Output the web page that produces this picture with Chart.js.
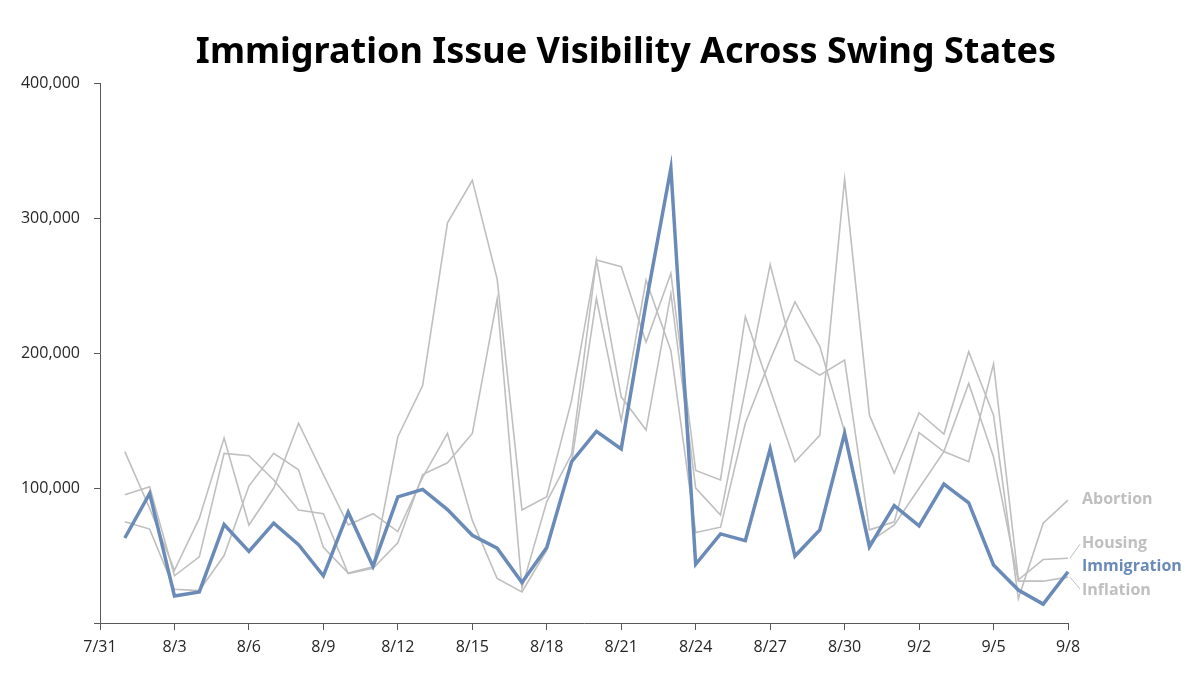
<!DOCTYPE html>
<html>
<head>
<meta charset="utf-8">
<script src="https://cdn.jsdelivr.net/npm/chart.js@4.4.1/dist/chart.umd.min.js"></script>
<style>
    html, body { margin: 0; padding: 0; background: #fff; }
    #wrap { width: 1200px; height: 675px; }
</style>
</head>
<body>
<div id="wrap"><canvas id="issueChart" width="1200" height="675"></canvas></div>
<script>
"use strict";

var dates = ['7/31',
    '8/1', '8/2', '8/3', '8/4', '8/5', '8/6', '8/7', '8/8', '8/9', '8/10',
    '8/11', '8/12', '8/13', '8/14', '8/15', '8/16', '8/17', '8/18', '8/19', '8/20',
    '8/21', '8/22', '8/23', '8/24', '8/25', '8/26', '8/27', '8/28', '8/29', '8/30',
    '8/31', '9/1', '9/2', '9/3', '9/4', '9/5', '9/6', '9/7', '9/8'];

// values start on 8/1
var immigration = [63000, 96000, 20000, 23000, 73000, 53000, 74000, 58000, 35000, 82000,
    42000, 93500, 99000, 84000, 65000, 55500, 30000, 56000, 119500, 142000,
    129000, 237000, 337000, 43500, 66000, 61000, 129000, 49600, 69000, 140500,
    56500, 87000, 72000, 103000, 89000, 43000, 24400, 14000, 38000];

var abortion = [75000, 69600, 25000, 24000, 50000, 101500, 125700, 113500, 56000, 37000,
    41700, 138000, 176000, 296500, 328000, 255000, 83700, 93600, 165000, 269000,
    264000, 208000, 259000, 113000, 106000, 227000, 173000, 119500, 139000, 329000,
    154000, 111000, 155800, 140000, 201000, 154000, 18000, 74000, 91000];

var housing = [95000, 101000, 35000, 49000, 125700, 124000, 106000, 83700, 81000, 36700,
    40500, 59500, 110000, 118700, 140500, 240000, 26000, 90000, 125000, 269000,
    167600, 143000, 244000, 100000, 80000, 173000, 265600, 194800, 183700, 194800,
    69000, 75000, 141000, 127000, 119500, 192000, 32000, 47000, 48000];

var inflation = [127000, 85000, 39000, 77500, 137000, 72600, 100000, 148000, 110000, 72600,
    81000, 67700, 108000, 140500, 76000, 33000, 23000, 54000, 119000, 240500,
    150000, 254000, 202000, 67000, 71000, 148000, 195000, 238000, 205000, 141700,
    60000, 72600, 99800, 127000, 177500, 123000, 31000, 31000, 34000];

var yTicks = [0, 100000, 200000, 300000, 400000];

var BLUE = '#6a8ab8';
var GREY = '#bfbfbf';
var AXIS = '#595959';

// how far each end label sits from its last point (px)
var labelShift = { Abortion: -1, Housing: -15, Immigration: -5, Inflation: 13 };

function toPoints(values) {
    return values.map(function (v, i) {
        return { x: dates[i + 1], y: v };
    });
}

function greySeries(name, values) {
    return {
        label: name,
        data: toPoints(values),
        borderColor: GREY,
        borderWidth: 1.6,
        pointRadius: 0,
        tension: 0,
        order: 2
    };
}

// the title sits a little right of the canvas centre in the original
var titleNudge = {
    id: 'titleNudge',
    afterLayout: function (chart) {
        chart.titleBlock.left += 52;
    }
};

var endLabels = {
    id: 'endLabels',
    afterDatasetsDraw: function (chart) {
        var ctx = chart.ctx;
        ctx.save();
        chart.data.datasets.forEach(function (ds, i) {
            var meta = chart.getDatasetMeta(i);
            var pt = meta.data[meta.data.length - 1];
            var shift = labelShift[ds.label];
            var ly = pt.y + shift;
            var tx = pt.x + 14;
            if (Math.abs(shift) > 8) {
                var dir = shift < 0 ? -1 : 1;
                ctx.strokeStyle = GREY;
                ctx.lineWidth = 1;
                ctx.beginPath();
                ctx.moveTo(pt.x + 2, pt.y);
                ctx.lineTo(pt.x + 12, ly - dir * 1);
                ctx.stroke();
            }
            ctx.font = 'bold 16px "Open Sans"';
            ctx.fillStyle = ds.label === 'Immigration' ? BLUE : GREY;
            ctx.textAlign = 'left';
            ctx.textBaseline = 'middle';
            ctx.fillText(ds.label, tx, ly);
        });
        ctx.restore();
    }
};

var issueChart = new Chart(document.getElementById('issueChart'), {
    type: 'line',
    data: {
        labels: dates,
        datasets: [
            {
                label: 'Immigration',
                data: toPoints(immigration),
                borderColor: BLUE,
                borderWidth: 3.5,
                pointRadius: 0,
                tension: 0,
                order: 1
            },
            greySeries('Abortion', abortion),
            greySeries('Housing', housing),
            greySeries('Inflation', inflation)
        ]
    },
    options: {
        responsive: false,
        animation: false,
        layout: { padding: 0 },
        plugins: {
            legend: { display: false },
            tooltip: { enabled: false },
            title: {
                display: true,
                text: 'Immigration Issue Visibility Across Swing States',
                color: '#000',
                font: { family: 'Noto Sans', size: 36, weight: 'bold' },
                padding: { top: 31, bottom: 9 }
            }
        },
        scales: {
            x: {
                type: 'category',
                offset: false,
                grid: { drawOnChartArea: false, drawTicks: true, tickLength: 7, color: AXIS },
                border: { display: true, color: AXIS, width: 1 },
                ticks: {
                    autoSkip: false,
                    maxRotation: 0,
                    padding: 8,
                    color: '#262626',
                    font: { family: 'Open Sans', size: 16 },
                    callback: function (value, index) {
                        return index % 3 === 0 ? dates[index] : null;
                    }
                },
                afterFit: function (scale) { scale.height = 52; }
            },
            y: {
                min: 0,
                max: 400000,
                position: 'left',
                grid: { drawOnChartArea: false, drawTicks: true, tickLength: 6, color: AXIS },
                border: { display: true, color: AXIS, width: 1 },
                afterBuildTicks: function (scale) {
                    scale.ticks = yTicks.map(function (v) { return { value: v }; });
                },
                ticks: {
                    padding: 14,
                    color: '#262626',
                    font: { family: 'Open Sans', size: 16 },
                    callback: function (value) {
                        return value === 0 ? '' : value.toLocaleString('en-US');
                    }
                },
                afterFit: function (scale) { scale.width = 100; }
            },
            side: {
                type: 'linear',
                position: 'right',
                display: true,
                grid: { display: false },
                border: { display: false },
                ticks: { display: false },
                afterFit: function (scale) { scale.width = 132; }
            }
        }
    },
    plugins: [titleNudge, endLabels]
});
</script>
</body>
</html>
